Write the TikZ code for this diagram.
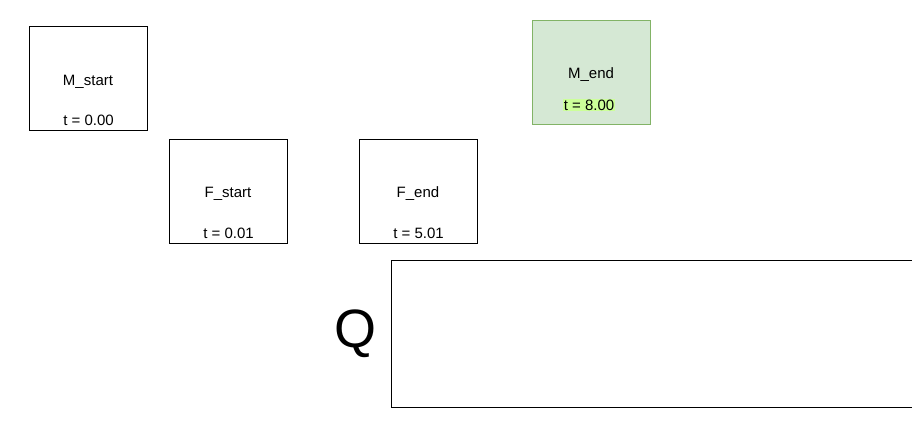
\documentclass[tikz,border=0pt]{standalone}
\usepackage{fontspec}
\setmainfont{Liberation Sans}
\usetikzlibrary{positioning}
\definecolor{greenfill}{HTML}{D5E8D4}
\definecolor{greenline}{HTML}{82B366}
\definecolor{hilite}{HTML}{CCFF99}
\begin{document}
\begin{tikzpicture}[x=1pt, y=-1pt, line width=1pt,
  box/.style={draw, minimum width=118pt, minimum height=104pt, inner sep=0pt},
  txt/.style={font=\fontsize{15}{17}\selectfont, inner sep=1pt}]
  \useasboundingbox (0,0) rectangle (912,447);
  \node[box, anchor=north west] (ms) at (29,26) {};
  \node[box, anchor=north west] (fs) at (169,139) {};
  \node[box, anchor=north west] (fe) at (359,139) {};
  \node[box, anchor=north west, fill=greenfill, draw=greenline] (me) at (532,20) {};

  \node[txt] (msname) at (88,82) {M\_start};
  \node[txt, above=4pt of ms.south] (mst) {t = 0.00};
  \node[txt] (fsname) at (228,194) {F\_start};
  \node[txt, above=4pt of fs.south] (fst) {t = 0.01};
  \node[txt] (fename) at (418,194) {F\_end};
  \node[txt, above=4pt of fe.south] (fet) {t = 5.01};
  \node[txt] (mename) at (591,75) {M\_end};
  \node[txt, fill=hilite, inner sep=0.5pt] (met) at (589,105) {t = 8.00};

  \draw (930,260) -- (391,260) -- (391,407) -- (930,407);
  \node[font=\fontsize{54}{60}\selectfont] (q) at (355,334) {Q};
\end{tikzpicture}
\end{document}
